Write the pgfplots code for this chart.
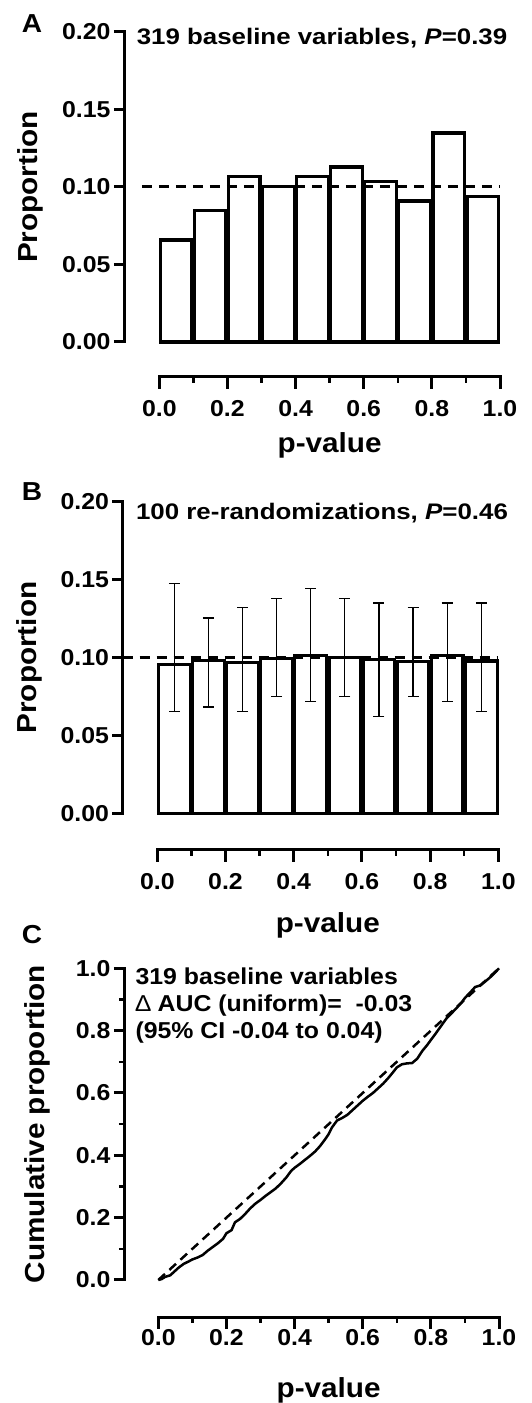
\documentclass[border=0pt]{standalone}
\usepackage{pgfplots}
\pgfplotsset{compat=1.18}
\usepackage{pgfplotstable}
\usepackage{fontspec}
\setmainfont{Liberation Sans}[FakeStretch=1.08, UprightFont={* Bold}, ItalicFont={* Bold Italic}, BoldFont={* Bold}, BoldItalicFont={* Bold Italic}]
\newfontfamily\titfam{Liberation Sans}[FakeStretch=1.15, UprightFont={* Bold}, ItalicFont={* Bold Italic}, BoldFont={* Bold}, BoldItalicFont={* Bold Italic}]
\newfontfamily\regfont{Liberation Sans}[FakeStretch=1.08]
\newcommand{\tickfont}{\fontsize{23}{23}\selectfont}
\newcommand{\labfont}{\fontsize{27.5}{27.5}\selectfont}
\newcommand{\titfont}{\titfam\fontsize{22.5}{27}\selectfont}
\newcommand{\ctfont}{\fontsize{23}{27}\selectfont}

\pgfplotstableread{
x y
0.05 0.0658
0.15 0.0846
0.25 0.1066
0.35 0.1003
0.45 0.1066
0.55 0.1129
0.65 0.1034
0.75 0.0909
0.85 0.1348
0.95 0.0940
}\histA

\pgfplotstableread{
x y ep em
0.05 0.0953 0.0521 0.0298
0.15 0.0980 0.0274 0.0297
0.25 0.0970 0.0349 0.0315
0.35 0.0994 0.0385 0.0244
0.45 0.1013 0.0429 0.0295
0.55 0.0998 0.0381 0.0248
0.65 0.0987 0.0362 0.0366
0.75 0.0974 0.0345 0.0224
0.85 0.1013 0.0336 0.0295
0.95 0.0978 0.0371 0.0323
}\histB

\pgfplotstableread{
x y
0.000 0.000
0.010 0.003
0.020 0.010
0.035 0.015
0.045 0.025
0.060 0.040
0.075 0.052
0.090 0.060
0.100 0.066
0.115 0.072
0.130 0.080
0.145 0.094
0.160 0.106
0.175 0.118
0.190 0.132
0.200 0.150
0.215 0.160
0.225 0.185
0.240 0.196
0.255 0.212
0.270 0.230
0.285 0.245
0.300 0.257
0.315 0.270
0.330 0.282
0.345 0.294
0.360 0.310
0.375 0.328
0.390 0.350
0.400 0.360
0.415 0.372
0.430 0.385
0.445 0.398
0.460 0.412
0.475 0.430
0.490 0.452
0.500 0.468
0.510 0.490
0.525 0.512
0.540 0.520
0.555 0.530
0.570 0.545
0.585 0.560
0.600 0.575
0.615 0.588
0.630 0.600
0.645 0.615
0.660 0.630
0.675 0.648
0.690 0.668
0.700 0.682
0.715 0.692
0.730 0.695
0.745 0.696
0.760 0.710
0.775 0.735
0.790 0.755
0.800 0.770
0.815 0.792
0.830 0.815
0.845 0.838
0.860 0.855
0.875 0.872
0.890 0.890
0.900 0.905
0.915 0.922
0.930 0.940
0.945 0.945
0.960 0.958
0.975 0.972
0.990 0.988
1.000 1.000
}\ecdf

\pgfplotsset{
  mainaxis/.style={scale only axis, axis x line=none, axis y line*=left, clip=false,
    tick align=outside, axis line style={line width=3pt, line cap=rect},
    major tick length=10pt, minor tick length=5pt,
    major tick style={line width=3pt, black}, minor tick style={line width=2.5pt, black},
    yticklabel style={font=\tickfont, anchor=east},
    xtick=\empty,
    every axis y label/.style={at={(axis description cs:-0.248,0.5)}, rotate=90, anchor=center, font=\labfont}},
  xaxisonly/.style={scale only axis, height=1pt, ymin=0, ymax=1, xmin=0, xmax=1,
    axis y line=none, ytick=\empty, axis x line*=bottom,
    tick align=outside, axis line style={line width=3pt, line cap=rect},
    xtick={0,0.2,0.4,0.6,0.8,1.0}, xticklabels={0.0,0.2,0.4,0.6,0.8,1.0},
    minor xtick={0.1,0.3,0.5,0.7,0.9},
    major tick length=12pt, minor tick length=6pt,
    major tick style={line width=3pt, black}, minor tick style={line width=2.5pt, black},
    xticklabel style={font=\tickfont, anchor=center, yshift=-20pt},
    every axis x label/.style={at={(axis description cs:0.5,0)}, anchor=center, yshift=-68pt, font=\labfont}},
  barA/.style={ybar, bar width=0.093, fill=white, draw=black, line width=3.2pt},
}

\begin{document}
\begin{tikzpicture}[x=1pt,y=1pt]
\path[use as bounding box] (0,0) rectangle (532,1403);

% ---------------- Panel A ----------------
\begin{axis}[mainaxis, at={(124pt,1061pt)}, anchor=south west,
  width=376pt, height=310pt, xmin=-0.1026, xmax=1, ymin=0, ymax=0.2,
  ytick={0,0.05,0.10,0.15,0.20}, yticklabels={0.00,0.05,0.10,0.15,0.20},
  ylabel={Proportion}]
\addplot[barA] table[x=x,y=y] {\histA};
\addplot[black, line width=3pt, dash pattern=on 10pt off 7pt] coordinates {(-0.05,0.1) (1,0.1)};
\end{axis}
\begin{axis}[xaxisonly, at={(159.3pt,1026pt)}, anchor=south west, width=340.7pt, xlabel={p-value}]
\end{axis}
\node[font=\fontsize{26}{26}\selectfont, anchor=center] at (32,1379) {A};
\node[font=\titfont, anchor=base] at (322,1358) {319 baseline variables, \textit{P}=0.39};

% ---------------- Panel B ----------------
\begin{axis}[mainaxis, at={(122.5pt,589.7pt)}, anchor=south west,
  width=375.8pt, height=311.6pt, xmin=-0.102, xmax=1, ymin=0, ymax=0.2,
  ytick={0,0.05,0.10,0.15,0.20}, yticklabels={0.00,0.05,0.10,0.15,0.20},
  ylabel={Proportion}]
\addplot[barA, error bars/.cd, y dir=both, y explicit,
  error bar style={line width=1.3pt, black, solid},
  error mark options={rotate=90, mark size=5.5pt, line width=1.3pt, black}]
  table[x=x, y=y, y error plus=ep, y error minus=em] {\histB};
\addplot[black, line width=3pt, dash pattern=on 10pt off 7pt] coordinates {(-0.102,0.1) (1,0.1)};
\end{axis}
\begin{axis}[xaxisonly, at={(157.3pt,553pt)}, anchor=south west, width=341pt, xlabel={p-value},
  every axis x label/.append style={yshift=-7pt}]
\end{axis}
\node[font=\fontsize{26}{26}\selectfont, anchor=center] at (32,911) {B};
\node[font=\titfont, anchor=base] at (322,883) {100 re-randomizations, \textit{P}=0.46};

% ---------------- Panel C ----------------
\begin{axis}[mainaxis, at={(124pt,123pt)}, anchor=south west,
  width=375pt, height=311.7pt, xmin=-0.1007, xmax=1, ymin=0, ymax=1,
  ytick={0,0.2,0.4,0.6,0.8,1.0}, yticklabels={0.0,0.2,0.4,0.6,0.8,1.0},
  minor ytick={0.1,0.3,0.5,0.7,0.9},
  ylabel={Cumulative proportion},
  every axis y label/.append style={at={(axis description cs:-0.2306,0.5)}}]
\addplot[black, line width=2.5pt, dash pattern=on 9pt off 6pt] coordinates {(0,0) (1,1)};
\addplot[black, line width=2.5pt, line join=round, sharp plot] table[x=x,y=y] {\ecdf};
\end{axis}
\begin{axis}[xaxisonly, at={(158.3pt,86pt)}, anchor=south west, width=340.7pt, xlabel={p-value},
  xticklabel style={yshift=11pt}, every axis x label/.append style={yshift=-5pt}]
\end{axis}
\node[font=\fontsize{26}{26}\selectfont, anchor=center] at (32,468) {C};
\node[font=\ctfont, anchor=base west] at (132,418) {319 baseline variables};
\node[font=\ctfont, anchor=base west] at (132,391) {{\regfont\char"2206} AUC (uniform)= \ -0.03};
\node[font=\ctfont, anchor=base west] at (132,364) {(95\% CI -0.04 to 0.04)};
\end{tikzpicture}
\end{document}
